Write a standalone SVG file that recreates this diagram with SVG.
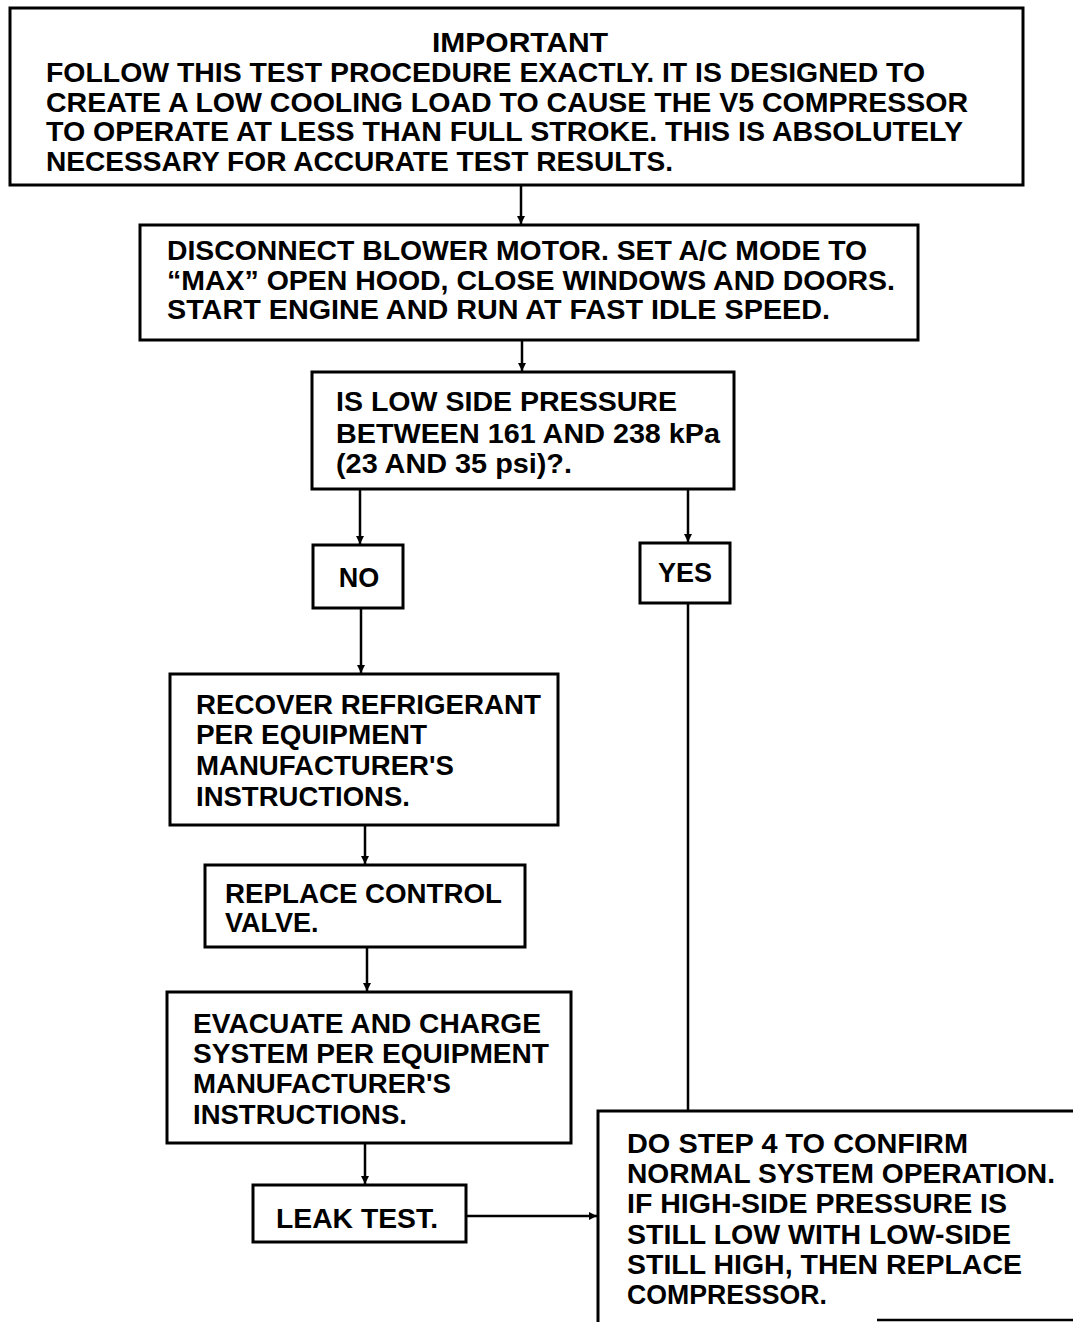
<svg xmlns="http://www.w3.org/2000/svg" width="1073" height="1322" viewBox="0 0 1073 1322">
<defs>
<marker id="arr" markerUnits="userSpaceOnUse" markerWidth="8" markerHeight="10" refX="8" refY="4" orient="auto">
<path d="M0,0 L8,4 L0,8 z" fill="#000"/>
</marker>
<style>
.box{fill:#fff;stroke:#000;stroke-width:3}
.t{font-family:"Liberation Sans",Arial,sans-serif;font-weight:bold;font-size:27px;fill:#000}
.c{font-family:"Liberation Sans",Arial,sans-serif;font-weight:bold;font-size:28px;fill:#000}
.ln{stroke:#000;stroke-width:2.5;fill:none}
</style>
</defs>
<rect width="1073" height="1322" fill="#fff"/>
<g id="connectors">
<line class="ln" x1="521" y1="186" x2="521" y2="224" marker-end="url(#arr)"/>
<line class="ln" x1="522" y1="341" x2="522" y2="371" marker-end="url(#arr)"/>
<line class="ln" x1="360" y1="490" x2="360" y2="544" marker-end="url(#arr)"/>
<line class="ln" x1="688" y1="490" x2="688" y2="542" marker-end="url(#arr)"/>
<line class="ln" x1="361" y1="609" x2="361" y2="673" marker-end="url(#arr)"/>
<line class="ln" x1="688" y1="604" x2="688" y2="1111"/>
<line class="ln" x1="365" y1="826" x2="365" y2="864" marker-end="url(#arr)"/>
<line class="ln" x1="367" y1="948" x2="367" y2="991" marker-end="url(#arr)"/>
<line class="ln" x1="365" y1="1144" x2="365" y2="1184" marker-end="url(#arr)"/>
<line class="ln" x1="467" y1="1216" x2="597" y2="1216" marker-end="url(#arr)"/>
</g>
<g id="important">
<rect class="box" x="10" y="8" width="1013" height="177"/>
<text class="c" x="520" y="52" text-anchor="middle" textLength="176" lengthAdjust="spacingAndGlyphs" font-size="25">IMPORTANT</text>
<text class="c" x="46" y="82" textLength="879" lengthAdjust="spacingAndGlyphs">FOLLOW THIS TEST PROCEDURE EXACTLY. IT IS DESIGNED TO</text>
<text class="c" x="46" y="112" textLength="922" lengthAdjust="spacingAndGlyphs">CREATE A LOW COOLING LOAD TO CAUSE THE V5 COMPRESSOR</text>
<text class="c" x="46" y="141" textLength="917" lengthAdjust="spacingAndGlyphs">TO OPERATE AT LESS THAN FULL STROKE. THIS IS ABSOLUTELY</text>
<text class="c" x="46" y="171" textLength="627" lengthAdjust="spacingAndGlyphs">NECESSARY FOR ACCURATE TEST RESULTS.</text>
</g>
<g id="disconnect">
<rect class="box" x="140" y="225" width="778" height="115"/>
<text class="t" x="167" y="260" textLength="700" lengthAdjust="spacingAndGlyphs">DISCONNECT BLOWER MOTOR. SET A/C MODE TO</text>
<text class="t" x="167" y="290" textLength="728" lengthAdjust="spacingAndGlyphs">“MAX” OPEN HOOD, CLOSE WINDOWS AND DOORS.</text>
<text class="t" x="167" y="319" textLength="663" lengthAdjust="spacingAndGlyphs">START ENGINE AND RUN AT FAST IDLE SPEED.</text>
</g>
<g id="question">
<rect class="box" x="312" y="372" width="422" height="117"/>
<text class="t" x="336" y="411" textLength="341" lengthAdjust="spacingAndGlyphs">IS LOW SIDE PRESSURE</text>
<text class="t" x="336" y="443" textLength="384" lengthAdjust="spacingAndGlyphs">BETWEEN 161 AND 238 kPa</text>
<text class="t" x="336" y="473" textLength="236" lengthAdjust="spacingAndGlyphs">(23 AND 35 psi)?.</text>
</g>
<g id="no">
<rect class="box" x="313" y="545" width="90" height="63"/>
<text class="t" x="359" y="587" text-anchor="middle">NO</text>
</g>
<g id="yes">
<rect class="box" x="640" y="543" width="90" height="60"/>
<text class="t" x="685" y="582" text-anchor="middle">YES</text>
</g>
<g id="recover">
<rect class="box" x="170" y="674" width="388" height="151"/>
<text class="t" x="196" y="714" textLength="345" lengthAdjust="spacingAndGlyphs">RECOVER REFRIGERANT</text>
<text class="t" x="196" y="744" textLength="231" lengthAdjust="spacingAndGlyphs">PER EQUIPMENT</text>
<text class="t" x="196" y="775" textLength="258" lengthAdjust="spacingAndGlyphs">MANUFACTURER'S</text>
<text class="t" x="196" y="806" textLength="214" lengthAdjust="spacingAndGlyphs">INSTRUCTIONS.</text>
</g>
<g id="replace">
<rect class="box" x="205" y="865" width="320" height="82"/>
<text class="t" x="225" y="903" textLength="277" lengthAdjust="spacingAndGlyphs">REPLACE CONTROL</text>
<text class="t" x="225" y="932">VALVE.</text>
</g>
<g id="evacuate">
<rect class="box" x="167" y="992" width="404" height="151"/>
<text class="t" x="193" y="1033" textLength="348" lengthAdjust="spacingAndGlyphs">EVACUATE AND CHARGE</text>
<text class="t" x="193" y="1063" textLength="356" lengthAdjust="spacingAndGlyphs">SYSTEM PER EQUIPMENT</text>
<text class="t" x="193" y="1093" textLength="258" lengthAdjust="spacingAndGlyphs">MANUFACTURER'S</text>
<text class="t" x="193" y="1124" textLength="214" lengthAdjust="spacingAndGlyphs">INSTRUCTIONS.</text>
</g>
<g id="leak">
<rect class="box" x="253" y="1185" width="213" height="57"/>
<text class="t" x="276" y="1228" textLength="162" lengthAdjust="spacingAndGlyphs">LEAK TEST.</text>
</g>
<g id="step4">
<path class="box" d="M1080,1111 L598,1111 L598,1330" fill="none"/>
<line class="ln" x1="877" y1="1320" x2="1073" y2="1320" stroke-width="2"/>
<text class="t" x="627" y="1153" textLength="341" lengthAdjust="spacingAndGlyphs">DO STEP 4 TO CONFIRM</text>
<text class="t" x="627" y="1183" textLength="428" lengthAdjust="spacingAndGlyphs">NORMAL SYSTEM OPERATION.</text>
<text class="t" x="627" y="1213" textLength="380" lengthAdjust="spacingAndGlyphs">IF HIGH-SIDE PRESSURE IS</text>
<text class="t" x="627" y="1244" textLength="384" lengthAdjust="spacingAndGlyphs">STILL LOW WITH LOW-SIDE</text>
<text class="t" x="627" y="1274" textLength="395" lengthAdjust="spacingAndGlyphs">STILL HIGH, THEN REPLACE</text>
<text class="t" x="627" y="1304" textLength="200" lengthAdjust="spacingAndGlyphs">COMPRESSOR.</text>
</g>
</svg>
